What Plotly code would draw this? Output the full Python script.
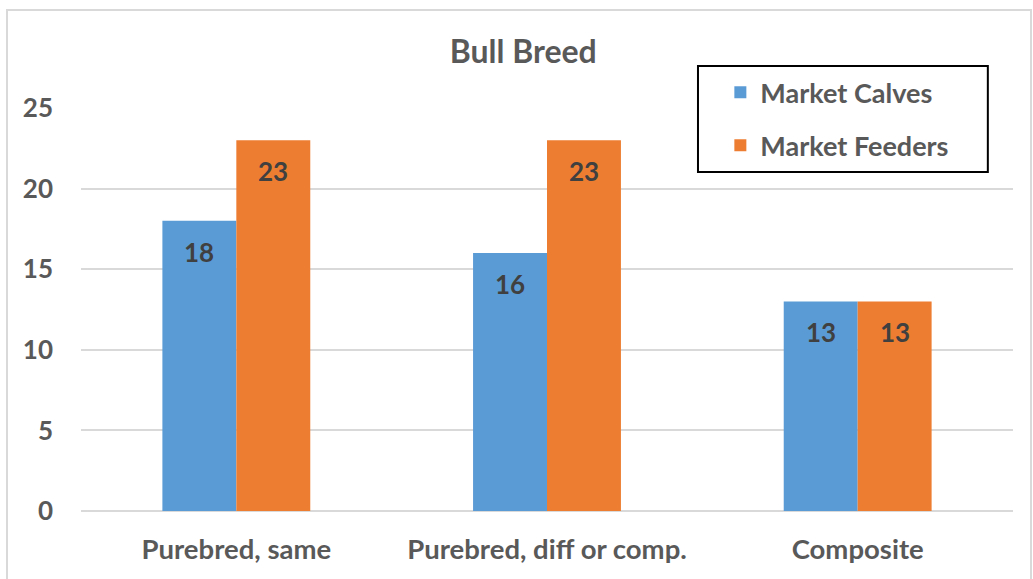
import plotly.graph_objects as go

categories = ["Purebred, same", "Purebred, diff or comp.", "Composite"]
calves = [18, 16, 13]
feeders = [23, 23, 13]
series_names = ["Market Calves", "Market Feeders"]
colors = ["#5B9BD5", "#ED7D31"]
ytick_vals = [0, 5, 10, 15, 20, 25]

FONT = "Lato"
GRAY = "#595959"

fig = go.Figure()
for i, (name, vals) in enumerate(zip(series_names, [calves, feeders])):
    fig.add_trace(go.Bar(
        x=categories, y=vals, name=f"<b>{name}</b>",
        marker=dict(color=colors[i], line=dict(width=0)),
        legendgroup=name,
    ))

# data labels near top inside each bar
offsets = [-37, 37]
annotations = []
for i, vals in enumerate([calves, feeders]):
    for c, v in zip(categories, vals):
        annotations.append(dict(
            x=c, y=v, xref="x", yref="y", text=f"<b>{v}</b>", showarrow=False,
            xshift=offsets[i], yshift=-31,
            font=dict(family=FONT, size=26, color="#404040"),
        ))

fig.update_layout(
    width=1033, height=579,
    margin=dict(l=81, r=20, t=108, b=68),
    paper_bgcolor="white", plot_bgcolor="white",
    barmode="group", bargap=0.524, bargroupgap=0,
    title=dict(text="<b>Bull Breed</b>", x=0.5065, xanchor="center", y=0.91, yanchor="middle",
               font=dict(family=FONT, size=32, color=GRAY)),
    xaxis=dict(showgrid=False, showline=False, ticks="", ticklabelstandoff=19,
               tickfont=dict(family=FONT, size=27.5, color=GRAY, weight="bold")),
    yaxis=dict(range=[0, 25], tickvals=ytick_vals, showgrid=True, gridcolor="#D9D9D9", gridwidth=2,
               zeroline=True, zerolinecolor="#D9D9D9", zerolinewidth=2,
               ticks="", ticklabelstandoff=27,
               tickfont=dict(family=FONT, size=26, color=GRAY, weight="bold")),
    legend=dict(x=0.686, y=1.099, xanchor="left", yanchor="top",
                borderwidth=0, bgcolor="rgba(0,0,0,0)",
                font=dict(family=FONT, size=27, color=GRAY),
                tracegroupgap=15),
    annotations=annotations,
    shapes=[
        dict(type="rect", xref="paper", yref="paper",
             x0=-0.0794, x1=1.0193, y0=-0.2, y1=1.2432,
             line=dict(color="#D9D9D9", width=2), layer="below"),
        dict(type="rect", xref="paper", yref="paper",
             x0=0.662, x1=0.973, y0=0.841, y1=1.104,
             line=dict(color="black", width=2), fillcolor="white", layer="below"),
    ],
)
fig.write_html("out.html")
